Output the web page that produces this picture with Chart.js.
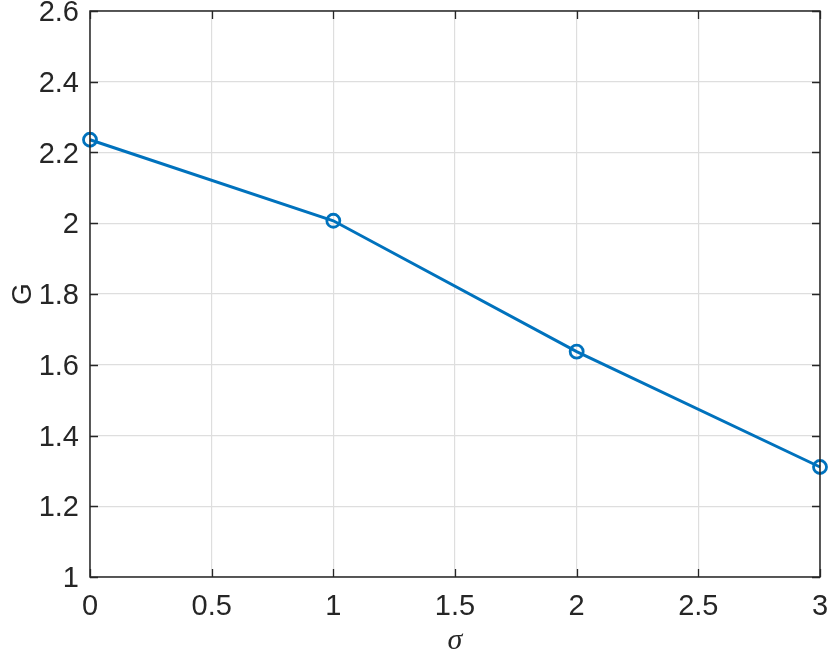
<!DOCTYPE html>
<html>
<head>
<meta charset="utf-8">
<script src="https://cdn.jsdelivr.net/npm/chart.js@4/dist/chart.umd.min.js"></script>
<style>
html,body{margin:0;padding:0;background:#fff;}
#wrap{width:830px;height:659px;position:relative;}
</style>
</head>
<body>
<div id="wrap"><canvas id="c" width="830" height="659"></canvas></div>
<script>
const sigmaValues = [0, 1, 2, 3];
const gValues = [2.236, 2.007, 1.637, 1.311];
const xTickLabels = ['0', '0.5', '1', '1.5', '2', '2.5', '3'];
const yTickLabels = ['1', '1.2', '1.4', '1.6', '1.8', '2', '2.2', '2.4', '2.6'];

const axisColor = '#262626';
const boxPlugin = {
  id: 'matlabBox',
  afterDraw(chart) {
    const {ctx, chartArea: a, scales} = chart;
    ctx.save();
    ctx.strokeStyle = axisColor;
    ctx.lineWidth = 1.5;
    ctx.strokeRect(a.left, a.top, a.right - a.left, a.bottom - a.top);
    ctx.beginPath();
    const tl = 8;
    scales.x.ticks.forEach(t => {
      const px = Math.round(scales.x.getPixelForValue(t.value)) + 0.5;
      ctx.moveTo(px, a.bottom); ctx.lineTo(px, a.bottom - tl);
      ctx.moveTo(px, a.top); ctx.lineTo(px, a.top + tl);
    });
    scales.y.ticks.forEach(t => {
      const py = Math.round(scales.y.getPixelForValue(t.value)) + 0.5;
      ctx.moveTo(a.left, py); ctx.lineTo(a.left + tl, py);
      ctx.moveTo(a.right, py); ctx.lineTo(a.right - tl, py);
    });
    ctx.lineWidth = 1.3;
    ctx.stroke();
    ctx.restore();
  }
};

new Chart(document.getElementById('c'), {
  type: 'line',
  data: {
    datasets: [{
      data: sigmaValues.map((x, i) => ({x: x, y: gValues[i]})),
      borderColor: '#0072BD',
      borderWidth: 3,
      pointRadius: 6.5,
      pointBorderWidth: 2.8,
      pointBackgroundColor: 'rgba(0,0,0,0)',
      pointBorderColor: '#0072BD',
      tension: 0,
      clip: false
    }]
  },
  options: {
    responsive: false,
    animation: false,
    devicePixelRatio: 1,
    layout: {padding: {top: 11, right: 10, left: 0, bottom: 0}},
    plugins: {legend: {display: false}, tooltip: {enabled: false}},
    scales: {
      x: {
        type: 'linear',
        min: 0, max: 3,
        afterFit(s) { s.height = 82; s.paddingLeft = 0; s.paddingRight = 0; },
        afterBuildTicks(s) { s.ticks = xTickLabels.map(v => ({value: parseFloat(v)})); },
        ticks: {
          padding: 13,
          color: axisColor,
          font: {family: '"Liberation Sans", Arial, sans-serif', size: 29},
          callback: (v, i) => xTickLabels[i]
        },
        grid: {color: '#dedede', lineWidth: 1.2, drawTicks: false},
        border: {display: false},
        title: {
          display: true,
          text: 'σ',
          color: axisColor,
          padding: {top: 7, bottom: 0},
          font: {family: '"Liberation Serif", "DejaVu Serif", serif', size: 30, style: 'italic'}
        }
      },
      y: {
        type: 'linear',
        min: 1, max: 2.6,
        afterFit(s) { s.width = 90; s.paddingTop = 0; s.paddingBottom = 0; },
        afterBuildTicks(s) { s.ticks = yTickLabels.map(v => ({value: parseFloat(v)})); },
        ticks: {
          padding: 11,
          labelOffset: 2,
          color: axisColor,
          font: {family: '"Liberation Sans", Arial, sans-serif', size: 29},
          callback: (v, i) => yTickLabels[i]
        },
        grid: {color: '#dedede', lineWidth: 1.2, drawTicks: false},
        border: {display: false},
        title: {
          display: true,
          text: 'G',
          color: axisColor,
          padding: {top: 6, bottom: 0},
          font: {family: '"Liberation Sans", Arial, sans-serif', size: 28}
        }
      }
    }
  },
  plugins: [boxPlugin]
});
</script>
</body>
</html>
